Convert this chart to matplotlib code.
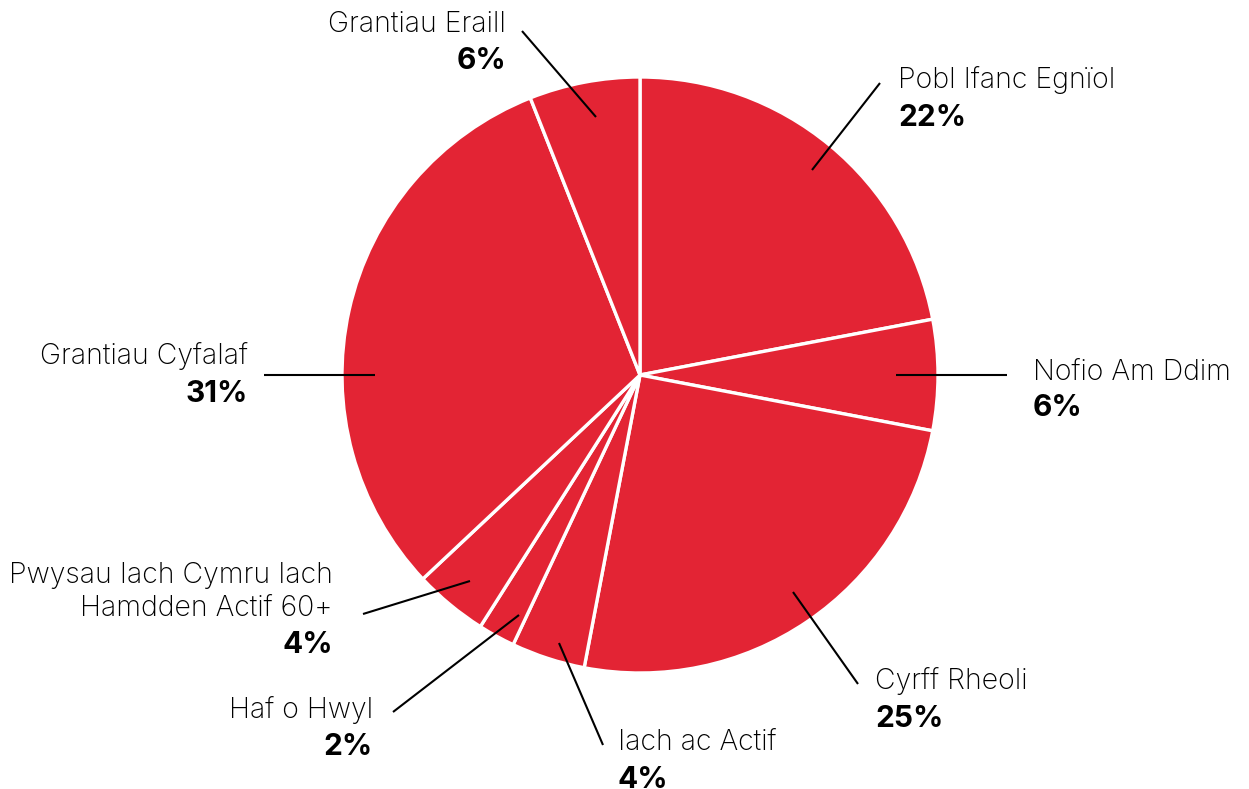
import matplotlib
matplotlib.use("Agg")
import matplotlib.pyplot as plt

W, H = 1249, 789

labels = ["Pobl Ifanc Egnïol", "Nofio Am Ddim", "Cyrff Rheoli", "Iach ac Actif",
          "Haf o Hwyl", "Pwysau Iach Cymru Iach\nHamdden Actif 60+", "Grantiau Cyfalaf",
          "Grantiau Eraill"]
values = [22, 6, 25, 4, 2, 4, 31, 6]

RED = "#E32434"
FONT = "Inter"

fig = plt.figure(figsize=(W / 100, H / 100), dpi=100)
ax = fig.add_axes([0, 0, 1, 1])

def Y(y):
    return H - y

cx, cy, r = 640, 375, 298
ax.pie(values, center=(cx, Y(cy)), radius=r, startangle=90, counterclock=False,
       colors=[RED] * len(values),
       wedgeprops=dict(edgecolor="white", linewidth=2.4), frame=True)
ax.set_xlim(0, W)
ax.set_ylim(0, H)
ax.set_aspect("equal")
ax.axis("off")

# label layout: (line start, line end, text x, align, baselines)
layout = [
    ((812, 170), (880, 83), 898, "left", [88], 126),
    ((896, 375), (1007, 375), 1033, "left", [380], 416),
    ((793, 592), (858, 684), 875, "left", [689], 727),
    ((559, 643), (603, 745), 618, "left", [750], 788),
    ((519, 615), (393, 712), 373, "right", [718], 755),
    ((470, 581), (363, 614), 333, "right", [583, 616], 653),
    ((375, 375), (264, 375), 248, "right", [364], 402),
    ((596, 117), (522, 31), 506, "right", [32], 69),
]

fs = 20.5
for (name, val, lay) in zip(labels, values, layout):
    p0, p1, tx, ha, name_bases, pct_base = lay
    ax.plot([p0[0], p1[0]], [Y(p0[1]), Y(p1[1])], color="black", lw=1.5,
            solid_capstyle="butt")
    for line, b in zip(name.split("\n"), name_bases):
        ax.text(tx, Y(b), line, ha=ha, va="baseline", fontsize=fs,
                family=FONT, fontweight="light", color="black")
    ax.text(tx, Y(pct_base), f"{val}%", ha=ha, va="baseline", fontsize=21.5,
            family=FONT, fontweight="bold", color="black")

fig.savefig("out.png", dpi=100, facecolor="white")
